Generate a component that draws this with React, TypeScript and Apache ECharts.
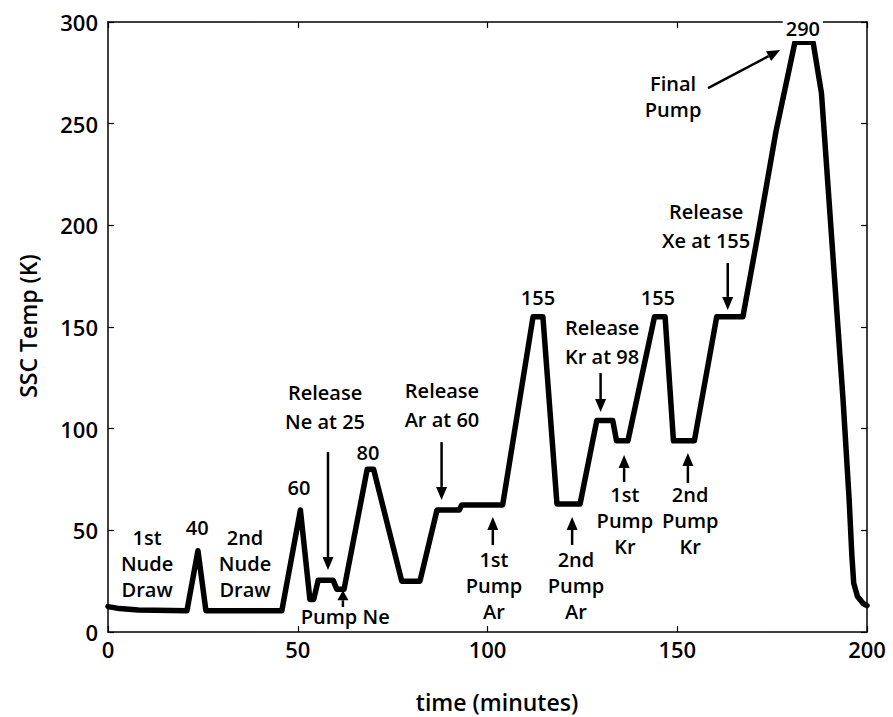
import React, { useEffect, useRef } from "react";
import * as echarts from "echarts";

// SSC temperature profile (time in minutes, temperature in K)
const timeMin: number[] = [
  0, 3, 8, 20.8, 23.7, 25.8, 45.8, 50.7, 53.2, 54.2, 55.4, 59.3, 60.3, 62.2,
  68.3, 70, 77.4, 82.2, 86.7, 92.6, 93.2, 104, 112, 114.6, 118.3, 124.4, 128.8,
  133, 134, 137, 144, 146.8, 149, 154.5, 160.4, 167.3, 171.4, 176, 181, 185.8,
  188, 193.7, 195.3, 196, 196.5, 197.5, 199, 200,
];
const tempK: number[] = [
  12.5, 11.5, 10.8, 10.5, 40, 10.5, 10.5, 60, 16, 16, 25.5, 25.5, 21, 21,
  80, 80, 25, 25, 60, 60, 62.5, 62.5, 155, 155, 63, 63, 104,
  104, 94, 94, 155, 155, 94, 94, 155, 155, 197, 246, 290, 290,
  265, 114, 65, 38, 24, 17.5, 14, 13,
];

const xTicks = { min: 0, max: 200, interval: 50 };
const yTicks = { min: 0, max: 300, interval: 50 };

// annotation texts (centre in data coordinates)
const labelTexts: string[] = [
  "1st\nNude\nDraw", "40", "2nd\nNude\nDraw", "60", "Release\nNe at 25", "80",
  "Pump Ne", "Release\nAr at 60", "155", "1st\nPump\nAr", "2nd\nPump\nAr",
  "Release\nKr at 98", "155", "1st\nPump\nKr", "2nd\nPump\nKr",
  "Release\nXe at 155", "Final\nPump", "290",
];
const labelX: number[] = [
  10.3, 23.5, 36.1, 50.3, 57.2, 68.5, 62.5, 88, 113.3, 101.7, 123.3, 130.2,
  144.9, 136.2, 153.4, 157.6, 148.9, 183.1,
];
const labelY: number[] = [
  33.9, 51.6, 33.9, 71.3, 110.7, 88.5, 7.4, 111.6, 164.3, 23.1, 23.1, 142.6,
  164.3, 54.6, 54.6, 199.7, 263.6, 297,
];

// arrows: start (x0,y0) -> tip (x1,y1), data coordinates
const arrowX0: number[] = [57.97, 61.9, 87.9, 101.4, 122.3, 129.8, 136, 152.8, 163.3, 158.1];
const arrowY0: number[] = [88.5, 12.3, 93.4, 42.8, 42.8, 127.4, 73.8, 73.3, 181.5, 267.5];
const arrowX1: number[] = [57.97, 61.9, 87.9, 101.4, 122.3, 129.8, 136, 152.8, 163.3, 177.1];
const arrowY1: number[] = [30.5, 20.5, 64.9, 56.6, 56.6, 108.2, 87, 88, 158.4, 286.2];

const FONT = "'Open Sans', 'Noto Sans', sans-serif";

export default function App() {
  const ref = useRef<HTMLDivElement>(null);

  useEffect(() => {
    if (!ref.current) return;
    document.body.style.margin = "0";
    const chart = echarts.init(ref.current, undefined, { renderer: "svg" });
    const axisCommon = {
      type: "value" as const,
      axisLine: { show: true, onZero: false, lineStyle: { color: "#000", width: 1.5 } },
      axisTick: { show: true, inside: true, length: 6, lineStyle: { color: "#000", width: 1.2 } },
      splitLine: { show: false },
    };
    chart.setOption({
      animation: false,
      backgroundColor: "#fff",
      grid: { left: 108, right: 26, top: 22, bottom: 85, containLabel: false },
      xAxis: [
        {
          ...axisCommon,
          ...xTicks,
          position: "bottom",
          axisLabel: { color: "#000", fontSize: 22, fontWeight: 600, fontFamily: FONT, margin: 6 },
        },
        { ...axisCommon, ...xTicks, position: "top", axisLabel: { show: false } },
      ],
      yAxis: [
        {
          ...axisCommon,
          ...yTicks,
          position: "left",
          axisLabel: { color: "#000", fontSize: 22, fontWeight: 600, fontFamily: FONT, margin: 10 },
        },
        { ...axisCommon, ...yTicks, position: "right", axisLabel: { show: false } },
      ],
      series: [
        {
          type: "line",
          data: timeMin.map((t, i) => [t, tempK[i]]),
          showSymbol: false,
          lineStyle: { color: "#000", width: 5.5, join: "round", cap: "round" },
          z: 3,
        },
      ],
    });

    const toPx = (x: number, y: number) =>
      chart.convertToPixel({ xAxisIndex: 0, yAxisIndex: 0 }, [x, y]) as number[];

    const graphics: any[] = [];
    labelTexts.forEach((txt, i) => {
      const [px, py] = toPx(labelX[i], labelY[i]);
      const isTop = txt === "290";
      graphics.push({
        type: "text",
        x: px,
        y: py,
        z: 10,
        style: {
          text: txt,
          fill: "#000",
          font: `600 20px ${FONT}`,
          align: "center",
          verticalAlign: "middle",
          lineHeight: txt.startsWith("Release") ? 29 : 26,
          backgroundColor: isTop ? "#fff" : undefined,
          padding: isTop ? [0, 3, 0, 3] : undefined,
        },
      });
    });
    arrowX0.forEach((_, i) => {
      const [x0, y0] = toPx(arrowX0[i], arrowY0[i]);
      const [x1, y1] = toPx(arrowX1[i], arrowY1[i]);
      const dx = x1 - x0;
      const dy = y1 - y0;
      const len = Math.sqrt(dx * dx + dy * dy);
      const ux = dx / len;
      const uy = dy / len;
      const head = Math.min(13, len * 0.6);
      const hw = 5.5;
      const bx = x1 - ux * head;
      const by = y1 - uy * head;
      graphics.push({
        type: "line",
        z: 10,
        shape: { x1: x0, y1: y0, x2: bx, y2: by },
        style: { stroke: "#000", lineWidth: 2.5 },
      });
      graphics.push({
        type: "polygon",
        z: 10,
        shape: {
          points: [
            [x1, y1],
            [bx - uy * hw, by + ux * hw],
            [bx + uy * hw, by - ux * hw],
          ],
        },
        style: { fill: "#000" },
      });
    });
    graphics.push({
      type: "text",
      x: 28,
      y: 326,
      rotation: Math.PI / 2,
      z: 10,
      style: {
        text: "SSC Temp (K)",
        fill: "#000",
        font: `600 23px ${FONT}`,
        align: "center",
        verticalAlign: "middle",
      },
    });
    graphics.push({
      type: "text",
      x: 497,
      y: 702,
      z: 10,
      style: {
        text: "time (minutes)",
        fill: "#000",
        font: `600 23px ${FONT}`,
        align: "center",
        verticalAlign: "middle",
      },
    });
    chart.setOption({ graphic: graphics });

    return () => chart.dispose();
  }, []);

  return <div ref={ref} style={{ width: 893, height: 717 }} />;
}
